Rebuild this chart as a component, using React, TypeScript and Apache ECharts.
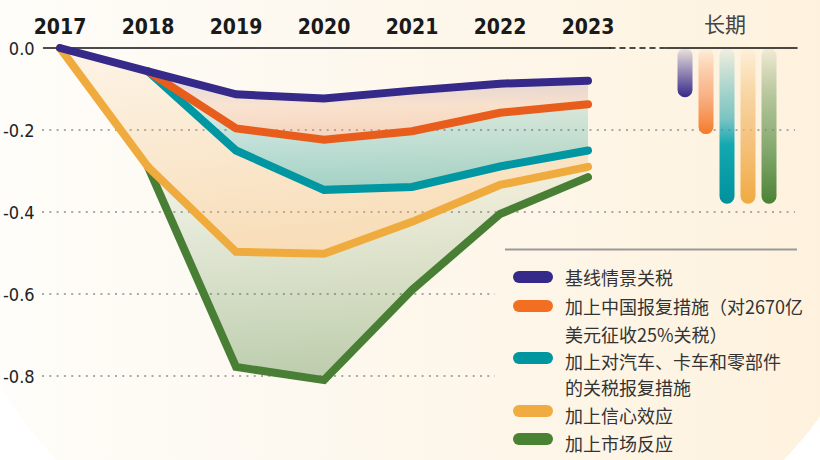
import React, { useEffect, useRef } from 'react';
import * as echarts from 'echarts';

// ---------- data ----------
const years = ['2017', '2018', '2019', '2020', '2021', '2022', '2023'];
const baseline = [0, -0.057, -0.113, -0.123, -0.104, -0.087, -0.08];
const chinaRetaliation = [null, -0.057, -0.196, -0.224, -0.203, -0.158, -0.137];
const autoRetaliation = [null, -0.057, -0.25, -0.346, -0.339, -0.289, -0.25];
const confidence = [0, -0.29, -0.497, -0.502, -0.424, -0.334, -0.29];
const market = [null, -0.29, -0.778, -0.81, -0.59, -0.405, -0.315];
const longRunTitle = '长期';
const longRun = [-0.12, -0.21, -0.38, -0.38, -0.38];
const seriesNames = [
  '基线情景关税',
  '加上中国报复措施（对2670亿美元征收25%关税）',
  '加上对汽车、卡车和零部件的关税报复措施',
  '加上信心效应',
  '加上市场反应',
];
const legendLines = [
  ['基线情景关税'],
  ['加上中国报复措施（对2670亿', '美元征收25%关税）'],
  ['加上对汽车、卡车和零部件', '的关税报复措施'],
  ['加上信心效应'],
  ['加上市场反应'],
];

// ---------- styles ----------
const colors = ['#35298a', '#e85d1c', '#0096a2', '#f0ab3e', '#487f35'];
const legendColors = ['#35298a', '#f26f22', '#0096a0', '#f0ac40', '#4a8234'];
const NARROW = "'Liberation Sans Narrow', 'DejaVu Sans Condensed', 'Roboto', sans-serif";
const CJK = "'Noto Sans CJK SC', sans-serif";
const TOP = 48;
const H = 410;

const vgrad = (stops: [number, string][]) => ({
  type: 'linear', x: 0, y: 0, x2: 0, y2: 1,
  colorStops: stops.map(([offset, color]) => ({ offset, color })),
});

export default function App() {
  const ref = useRef<HTMLDivElement>(null);
  useEffect(() => {
    if (!ref.current) return;
    const chart = echarts.init(ref.current, null, { renderer: 'svg' });

    const DATA_AX = 5; // index of the category grid/axes that carry the data
    const lineArrays = [baseline, chinaRetaliation, autoRetaliation, confidence, market];

    const bandDefs = [
      { upper: baseline, lower: chinaRetaliation,
        fill: vgrad([[0, 'rgba(110,90,165,0.22)'], [0.5, 'rgba(235,160,110,0.25)'], [1, 'rgba(230,140,90,0.35)']]) },
      { upper: chinaRetaliation, lower: autoRetaliation,
        fill: vgrad([[0, 'rgba(0,150,150,0.06)'], [1, 'rgba(0,140,120,0.36)']]) },
      { upper: years.map((_, i) => autoRetaliation[i] ?? baseline[i]), lower: confidence,
        fill: vgrad([[0, 'rgba(240,175,90,0.10)'], [1, 'rgba(238,170,80,0.36)']]) },
      { upper: confidence, lower: market,
        fill: vgrad([[0, 'rgba(90,140,60,0.06)'], [1, 'rgba(70,125,50,0.36)']]) },
    ];

    const bandSeries: any[] = [];
    bandDefs.forEach((b, k) => {
      bandSeries.push({
        type: 'line', xAxisIndex: DATA_AX, yAxisIndex: DATA_AX, stack: 'band' + k, stackStrategy: 'all',
        data: b.upper, showSymbol: false, silent: true,
        lineStyle: { opacity: 0 }, z: 1,
      });
      bandSeries.push({
        type: 'line', xAxisIndex: DATA_AX, yAxisIndex: DATA_AX, stack: 'band' + k, stackStrategy: 'all',
        data: years.map((_, i) => {
          const u = b.upper[i];
          const l = b.lower[i];
          return u == null || l == null ? null : l - u;
        }),
        showSymbol: false, silent: true, lineStyle: { opacity: 0 },
        areaStyle: { color: b.fill, opacity: 1 }, z: 1,
      });
    });

    const lineSeries = lineArrays.map((arr, i) => ({
      type: 'line', name: seriesNames[i], xAxisIndex: DATA_AX, yAxisIndex: DATA_AX,
      data: arr, showSymbol: false, connectNulls: false,
      lineStyle: { color: colors[i], width: 8, cap: 'round', join: 'miter' },
      z: 10 - i,
    }));

    const barGradients = [
      vgrad([[0, 'rgba(53,41,138,0.08)'], [1, '#35298a']]),
      vgrad([[0, 'rgba(245,125,50,0.03)'], [0.5, 'rgba(246,150,95,0.65)'], [1, '#f47a2a']]),
      vgrad([[0, 'rgba(0,150,160,0.04)'], [0.45, 'rgba(40,165,175,0.6)'], [0.62, '#14a8b1'], [1, '#00919c']]),
      vgrad([[0, 'rgba(240,170,64,0.03)'], [0.5, 'rgba(242,185,110,0.75)'], [1, '#f0aa40']]),
      vgrad([[0, 'rgba(72,128,52,0.06)'], [0.5, 'rgba(110,155,90,0.7)'], [1, '#4a8234']]),
    ];

    const barSeries = {
      type: 'bar', xAxisIndex: 2, yAxisIndex: 2, barWidth: 15,
      data: longRun.map((v, i) => ({
        value: [i, v], itemStyle: { color: barGradients[i], borderRadius: 7.5 },
      })),
      z: 5,
    };

    const dotted = { color: '#a9a9a9', width: 2, type: [2, 5.3] };

    // legend graphics
    const legendTextRows = [[277], [306, 334], [361, 387], [415], [443]];
    const swatchY = [277, 306, 358, 411, 439];
    const legendEls: any[] = [];
    legendLines.forEach((lines, i) => {
      legendEls.push({
        type: 'rect', z: 100,
        shape: { x: 513, y: swatchY[i] - 6, width: 40, height: 12, r: 6 },
        style: { fill: legendColors[i] },
      });
      const rows = legendTextRows[i];
      const lh = rows.length > 1 ? rows[1] - rows[0] : 26;
      legendEls.push({
        type: 'text', z: 100, x: 565, y: (rows[0] + rows[rows.length - 1]) / 2,
        style: {
          text: lines.join('\n'), fill: '#333', font: `18px ${CJK}`,
          lineHeight: lh, verticalAlign: 'middle', textVerticalAlign: 'middle',
        },
      });
    });

    chart.setOption({
      animation: false,
      backgroundColor: 'transparent',
      title: {
        text: longRunTitle, left: 704, top: 12, padding: 0,
        textStyle: { fontSize: 21, fontWeight: 'normal', color: '#444', fontFamily: CJK },
      },
      grid: [
        { left: 42, top: TOP, width: 568, height: H },
        { left: 610, top: TOP, width: 56, height: H },
        { left: 666, top: TOP, width: 131, height: H },
        { left: 42, top: TOP, width: 753, height: H * 0.4 },
        { left: 42, top: TOP + H * 0.6, width: 453, height: H * 0.2 },
        { left: 60, top: TOP, width: 528, height: H },
      ],
      xAxis: [
        {
          gridIndex: 0, type: 'value', min: 0, max: 1, position: 'top',
          axisLine: { onZero: false, lineStyle: { color: '#111', width: 1.5 } },
          axisTick: { show: false }, splitLine: { show: false }, axisLabel: { show: false },
        },
        {
          gridIndex: 1, type: 'value', min: 0, max: 1, position: 'top',
          axisLine: { onZero: false, lineStyle: { color: '#111', width: 1.5, type: [5, 5] } },
          axisTick: { show: false }, splitLine: { show: false }, axisLabel: { show: false },
        },
        {
          gridIndex: 2, type: 'value', min: -0.905, max: 5.333, position: 'top',
          axisLine: { onZero: false, lineStyle: { color: '#111', width: 1.5 } },
          axisTick: { show: false }, splitLine: { show: false }, axisLabel: { show: false },
        },
        { gridIndex: 3, type: 'value', show: false },
        { gridIndex: 4, type: 'value', show: false },
        {
          gridIndex: 5, type: 'category', data: years, boundaryGap: false, position: 'top',
          axisLine: { show: false }, axisTick: { show: false }, splitLine: { show: false },
          axisLabel: {
            margin: 11, fontSize: 21, fontWeight: 'bold', fontFamily: NARROW, color: '#1a1a1a',
          },
        },
      ],
      yAxis: [
        {
          gridIndex: 0, type: 'value', min: -1, max: 0, interval: 0.2,
          axisLine: { show: false }, axisTick: { show: false }, splitLine: { show: false },
          axisLabel: {
            formatter: (v: number) => (v <= -0.99 ? '' : v.toFixed(1)),
            margin: 9, fontSize: 18, fontFamily: NARROW, color: '#222',
          },
        },
        { gridIndex: 1, type: 'value', min: -1, max: 0, show: false },
        { gridIndex: 2, type: 'value', min: -1, max: 0, show: false },
        {
          gridIndex: 3, type: 'value', min: -0.4, max: 0, interval: 0.2,
          axisLine: { show: false }, axisTick: { show: false }, axisLabel: { show: false },
          splitLine: { show: true, showMaxLine: false, showMinLine: true, lineStyle: dotted },
        },
        {
          gridIndex: 4, type: 'value', min: -0.8, max: -0.6, interval: 0.2,
          axisLine: { show: false }, axisTick: { show: false }, axisLabel: { show: false },
          splitLine: { show: true, showMaxLine: true, showMinLine: true, lineStyle: dotted },
        },
        { gridIndex: 5, type: 'value', min: -1, max: 0, show: false },
      ],
      graphic: [
        {
          type: 'circle', z: -100, silent: true,
          shape: { cx: 420, cy: 120, r: 498 },
          style: {
            fill: {
              type: 'linear', x: 0, y: 0, x2: 1, y2: 0,
              colorStops: [
                { offset: 0, color: '#fffefb' },
                { offset: 0.35, color: '#fdf9f1' },
                { offset: 0.9, color: '#fef2de' },
                { offset: 1, color: '#fef2de' },
              ],
            },
          },
        },
        {
          type: 'line', z: 100, silent: true,
          shape: { x1: 505, y1: 249.5, x2: 797, y2: 249.5 },
          style: { stroke: '#9a9a9a', lineWidth: 2 },
        },
        ...legendEls,
      ],
      series: [...bandSeries, ...lineSeries, barSeries],
    });

    return () => chart.dispose();
  }, []);

  return (
    <div
      ref={ref}
      style={{ position: 'absolute', left: 0, top: 0, width: 820, height: 460, background: '#ffffff' }}
    />
  );
}
